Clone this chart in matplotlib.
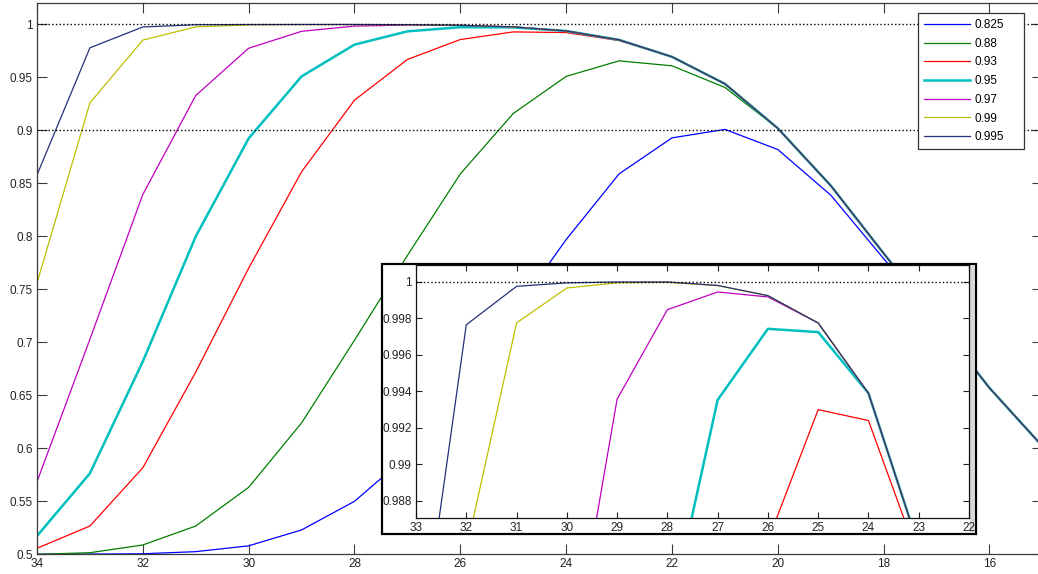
import matplotlib
matplotlib.use("Agg")
import matplotlib.pyplot as plt
from matplotlib.patches import Rectangle
from matplotlib.ticker import FormatStrFormatter
import numpy as np

plt.rcParams['font.family'] = ['Liberation Sans', 'DejaVu Sans']

# ---------------- data ----------------
x_vals = [34, 33, 32, 31, 30, 29, 28, 27, 26, 25, 24, 23, 22, 21, 20, 19, 18, 17, 16, 15]

s_0825 = [0.5000, 0.5002, 0.5005, 0.5025, 0.5080, 0.5230, 0.5500, 0.5930, 0.6550, 0.7270,
          0.7970, 0.8590, 0.8930, 0.9010, 0.8820, 0.8390, 0.7790, 0.7200, 0.6570, 0.6020]
s_088 = [0.5000, 0.5015, 0.5088, 0.5267, 0.5632, 0.6240, 0.7020, 0.7820, 0.8590, 0.9160,
         0.9510, 0.9657, 0.9610, 0.9406, 0.9020, 0.8480, 0.7840, 0.7210, 0.6570, 0.6020]
s_093 = [0.5057, 0.5267, 0.5817, 0.6720, 0.7700, 0.8610, 0.9286, 0.9670, 0.9858, 0.9930,
         0.9924, 0.9848, 0.9695, 0.9440, 0.9020, 0.8480, 0.7840, 0.7210, 0.6570, 0.6020]
s_095 = [0.5173, 0.5764, 0.6820, 0.8000, 0.8925, 0.9510, 0.9810, 0.99353, 0.99743, 0.99725,
         0.9939, 0.9855, 0.9695, 0.9440, 0.9020, 0.8480, 0.7840, 0.7210, 0.6570, 0.6020]
s_097 = [0.5685, 0.7030, 0.8396, 0.9330, 0.9776, 0.99357, 0.99848, 0.99945, 0.99918, 0.99775,
         0.9939, 0.9855, 0.9695, 0.9440, 0.9020, 0.8480, 0.7840, 0.7210, 0.6570, 0.6020]
s_099 = [0.7560, 0.9260, 0.9853, 0.99775, 0.99967, 0.99995, 0.99998, 0.99980, 0.99925, 0.99775,
         0.9939, 0.9855, 0.9695, 0.9440, 0.9020, 0.8480, 0.7840, 0.7210, 0.6570, 0.6020]
s_0995 = [0.8580, 0.9780, 0.99765, 0.99976, 0.99995, 1.0000, 1.0000, 0.99981, 0.99925, 0.99775,
          0.9939, 0.9855, 0.9695, 0.9440, 0.9020, 0.8480, 0.7840, 0.7210, 0.6570, 0.6020]

labels = ['0.825', '0.88', '0.93', '0.95', '0.97', '0.99', '0.995']
series = [s_0825, s_088, s_093, s_095, s_097, s_099, s_0995]
colors = ['#0000ff', '#007f00', '#ff0000', '#00bfbf', '#bf00bf', '#bfbf00', '#25307a']
widths = [0.9, 0.9, 0.9, 1.8, 0.9, 0.9, 0.9]

main_xticks = [34, 32, 30, 28, 26, 24, 22, 20, 18, 16]
main_yticks = [0.5, 0.55, 0.6, 0.65, 0.7, 0.75, 0.8, 0.85, 0.9, 0.95, 1.0]
inset_xticks = [33, 32, 31, 30, 29, 28, 27, 26, 25, 24, 23, 22]
inset_yticks = [0.988, 0.99, 0.992, 0.994, 0.996, 0.998, 1.0]

# ---------------- layout ----------------
W, H = 1038, 574
fig = plt.figure(figsize=(W / 100, H / 100), dpi=100)
fig.patch.set_facecolor('white')


def fx(px):
    return px / W


def fy(py):
    return 1 - py / H


spine_c = '#3a3a3a'
fs = 8.5

ax = fig.add_axes([fx(37), fy(554.3), (1042.4 - 37) / W, (554.3 - 3.3) / H])
for s, lab, c, lw in zip(series, labels, colors, widths):
    ax.plot(x_vals, s, color=c, lw=lw, label=lab)
ax.axhline(1.0, ls=':', color='k', lw=1.0)
ax.axhline(0.9, ls=':', color='k', lw=1.0)
ax.set_xlim(34, 15)
ax.set_ylim(0.5, 1.02)
ax.set_xticks(main_xticks)
ax.set_yticks(main_yticks)
ax.yaxis.set_major_formatter(FormatStrFormatter('%g'))
ax.tick_params(direction='in', length=7, width=0.8, top=True, right=True,
               color=spine_c, labelsize=fs, pad=3, labelcolor='#222222')
for sp in ax.spines.values():
    sp.set_color(spine_c)
    sp.set_linewidth(0.9)

leg = ax.legend(loc='upper left',
                bbox_to_anchor=(fx(918.3), fy(148), (1024.3 - 918.3) / W, (148 - 13) / H),
                bbox_transform=fig.transFigure, mode='expand', frameon=True, fancybox=False,
                borderaxespad=0, handlelength=3.9, handletextpad=0.4,
                labelspacing=0.57, borderpad=0.5, fontsize=fs)
leg.get_frame().set_edgecolor('#333333')
leg.get_frame().set_linewidth(0.9)
leg.get_frame().set_alpha(1)

# inset frame
frame = Rectangle((fx(382), fy(534)), (976 - 382) / W, (534 - 264) / H,
                  transform=fig.transFigure, facecolor='white', edgecolor='black',
                  lw=1.6, zorder=1)
fig.patches.append(frame)
strip = Rectangle((fx(970), fy(533)), 5 / W, (533 - 265) / H,
                  transform=fig.transFigure, facecolor='#d8d8d8', edgecolor='none',
                  zorder=1.5)
fig.patches.append(strip)

axi = fig.add_axes([fx(416), fy(518.3), (969 - 416) / W, (518.3 - 265) / H])
axi.set_zorder(2)
for s, lab, c, lw in zip(series, labels, colors, widths):
    axi.plot(x_vals, s, color=c, lw=lw)
axi.axhline(1.0, ls=':', color='k', lw=1.0)
axi.set_xlim(33, 22)
axi.set_ylim(0.98704, 1.00093)
axi.set_xticks(inset_xticks)
axi.set_yticks(inset_yticks)
axi.yaxis.set_major_formatter(FormatStrFormatter('%g'))
axi.tick_params(direction='in', length=4.3, width=0.8, top=True, right=True,
                color='#222222', labelsize=fs, pad=3, labelcolor='#222222')
for sp in axi.spines.values():
    sp.set_color('#111111')
    sp.set_linewidth(0.9)

fig.savefig('out.png', dpi=100, facecolor='white')
